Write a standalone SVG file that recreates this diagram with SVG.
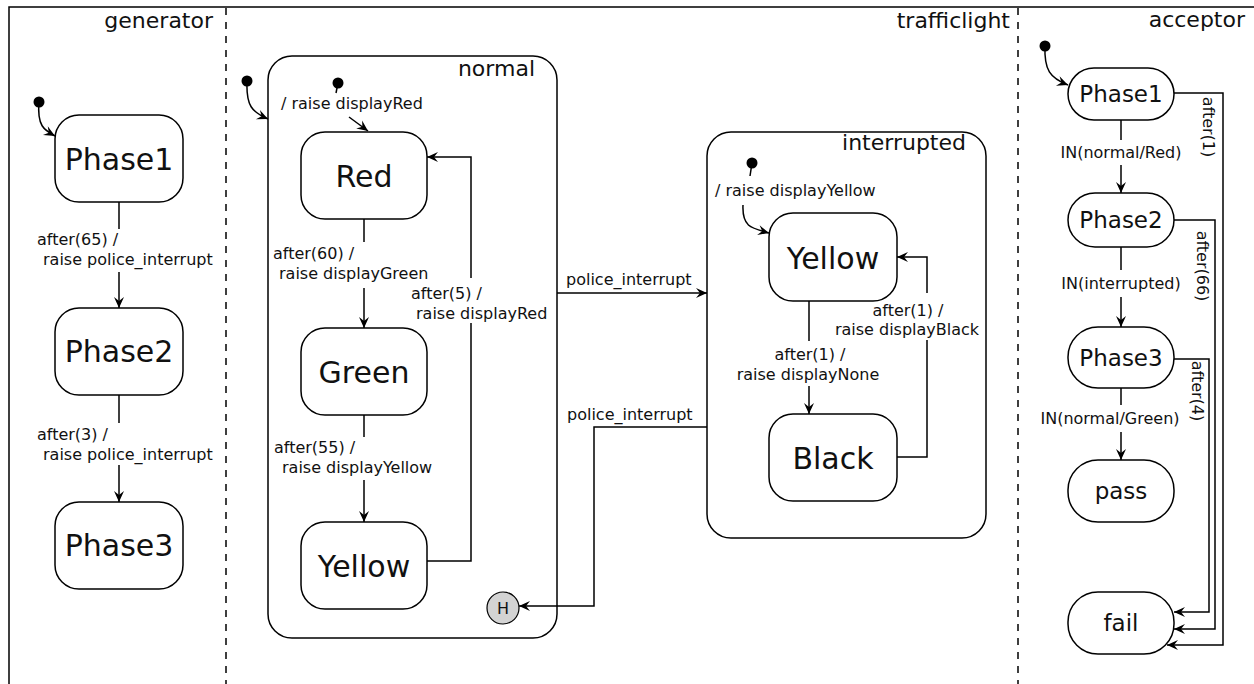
<svg xmlns="http://www.w3.org/2000/svg" width="1254" height="684" viewBox="0 0 1254 684">
<style>
text{font-family:"DejaVu Sans","Liberation Sans",sans-serif;fill:#111}
.t{font-size:22px}
.n{font-size:30px;text-anchor:middle}
.an{font-size:23px;text-anchor:middle}
.l{font-size:16px}
.m{text-anchor:middle}
.box{fill:#fff;stroke:#000;stroke-width:1.5}
.c{fill:none;stroke:#000;stroke-width:1.5}
.a{marker-end:url(#ah)}
.dot{fill:#000}
.sep{stroke:#000;stroke-width:1.5;stroke-dasharray:7 7}
</style>
<defs>
<marker id="ah" viewBox="-12 -7 14 14" refX="0" refY="0" markerWidth="14" markerHeight="14" orient="auto" markerUnits="userSpaceOnUse">
<path d="M-11,-5 L0,0 L-11,5 L-7,0 Z" fill="#000"/>
</marker>
</defs>
<rect width="1254" height="684" fill="#fff"/>
<path d="M9,684 V7 H1254" fill="none" stroke="#000" stroke-width="1.5"/>
<line class="sep" x1="226" y1="8" x2="226" y2="684"/>
<line class="sep" x1="1018" y1="8" x2="1018" y2="684"/>
<text class="t" x="213" y="28" text-anchor="end">generator</text>
<text class="t" x="1010" y="28" text-anchor="end">trafficlight</text>
<text class="t" x="1245" y="27" text-anchor="end">acceptor</text>

<g id="normal">
<rect class="box" x="268" y="56" width="289" height="582" rx="24"/>
<text class="t" x="535" y="76" text-anchor="end">normal</text>
</g>
<g id="interrupted">
<rect class="box" x="707" y="132" width="279" height="406" rx="24"/>
<text class="t" x="966" y="150" text-anchor="end">interrupted</text>
</g>

<g id="gen-init"><circle class="dot" cx="39" cy="102" r="5.5"/></g>
<g id="gen-phase1"><rect class="box" x="55" y="115" width="128" height="87" rx="24"/><text class="n" x="119" y="170">Phase1</text></g>
<g id="gen-phase2"><rect class="box" x="55" y="308" width="128" height="87" rx="24"/><text class="n" x="119" y="362">Phase2</text></g>
<g id="gen-phase3"><rect class="box" x="55" y="502" width="128" height="87" rx="24"/><text class="n" x="119" y="556">Phase3</text></g>

<g id="tl-init"><circle class="dot" cx="247" cy="81" r="5.5"/></g>
<g id="normal-init"><circle class="dot" cx="338" cy="83" r="5.5"/></g>
<g id="red"><rect class="box" x="301" y="132" width="126" height="87" rx="24"/><text class="n" x="364" y="187">Red</text></g>
<g id="green"><rect class="box" x="301" y="328" width="126" height="87" rx="24"/><text class="n" x="364" y="383">Green</text></g>
<g id="yellow"><rect class="box" x="301" y="522" width="126" height="87" rx="24"/><text class="n" x="364" y="577">Yellow</text></g>
<g id="history"><circle cx="503" cy="608" r="16" fill="#d3d3d3" stroke="#000" stroke-width="1.2"/><text class="m" x="503" y="614" font-size="16">H</text></g>

<g id="int-init"><circle class="dot" cx="752" cy="163" r="5.5"/></g>
<g id="int-yellow"><rect class="box" x="769" y="213" width="128" height="88" rx="24"/><text class="n" x="833" y="269">Yellow</text></g>
<g id="int-black"><rect class="box" x="769" y="414" width="128" height="87" rx="24"/><text class="n" x="833" y="469">Black</text></g>

<g id="acc-init"><circle class="dot" cx="1045" cy="46" r="5.5"/></g>
<g id="acc-phase1"><rect class="box" x="1068" y="68" width="106" height="52" rx="26"/><text class="an" x="1121" y="102">Phase1</text></g>
<g id="acc-phase2"><rect class="box" x="1068" y="193" width="106" height="54" rx="27"/><text class="an" x="1121" y="228">Phase2</text></g>
<g id="acc-phase3"><rect class="box" x="1068" y="327" width="106" height="61" rx="30"/><text class="an" x="1121" y="366">Phase3</text></g>
<g id="acc-pass"><rect class="box" x="1068" y="460" width="106" height="62" rx="30"/><text class="an" x="1121" y="499">pass</text></g>
<g id="acc-fail"><rect class="box" x="1068" y="592" width="106" height="62" rx="30"/><text class="an" x="1121" y="631">fail</text></g>

<g id="connectors">
<path class="c a" d="M39,102 C37,126 44,130 55,136"/>
<path class="c" d="M119,202 V229"/>
<path class="c a" d="M119,272 V308"/>
<text class="l" x="37" y="245">after(65) /</text>
<text class="l" x="43" y="265">raise police_interrupt</text>
<path class="c" d="M119,395 V423"/>
<path class="c a" d="M119,465 V502"/>
<text class="l" x="37" y="440">after(3) /</text>
<text class="l" x="43" y="460">raise police_interrupt</text>

<path class="c a" d="M247,81 C246,106 252,112 268,119"/>
<path class="c" d="M338,83 L336,93"/>
<text class="l" x="281" y="109">/ raise displayRed</text>
<path class="c a" d="M349,117 L368,131"/>
<path class="c" d="M364,219 V242"/>
<text class="l" x="273" y="259">after(60) /</text>
<text class="l" x="279" y="279">raise displayGreen</text>
<path class="c a" d="M364,288 V328"/>
<path class="c" d="M364,415 V437"/>
<text class="l" x="274" y="453">after(55) /</text>
<text class="l" x="282" y="473">raise displayYellow</text>
<path class="c a" d="M364,480 V522"/>
<path class="c" d="M427,561 H471 V323"/>
<path class="c a" d="M471,278 V157 H427"/>
<text class="l" x="411" y="299">after(5) /</text>
<text class="l" x="416" y="319">raise displayRed</text>

<path class="c a" d="M557,293 H707"/>
<text class="l" x="566" y="285">police_interrupt</text>
<path class="c a" d="M707,427 H594 V606 H519"/>
<text class="l" x="567" y="420">police_interrupt</text>

<path class="c" d="M752,163 L750,176"/>
<text class="l" x="715" y="196">/ raise displayYellow</text>
<path class="c a" d="M743,205 C742,226 750,228 769,233"/>
<path class="c" d="M809,301 V341"/>
<text class="l m" x="810" y="360">after(1) /</text>
<text class="l m" x="808" y="380">raise displayNone</text>
<path class="c a" d="M809,386 V414"/>
<path class="c" d="M897,457 H927 V340"/>
<path class="c a" d="M927,293 V257 H897"/>
<text class="l m" x="908" y="316">after(1) /</text>
<text class="l m" x="907" y="335">raise displayBlack</text>

<path class="c a" d="M1045,46 C1044,70 1050,78 1068,85"/>
<path class="c" d="M1121,120 V140"/>
<text class="l m" x="1121" y="158">IN(normal/Red)</text>
<path class="c a" d="M1121,165 V193"/>
<path class="c" d="M1121,247 V270"/>
<text class="l m" x="1121" y="289">IN(interrupted)</text>
<path class="c a" d="M1121,297 V327"/>
<path class="c" d="M1121,388 V405"/>
<text class="l m" x="1110" y="424">IN(normal/Green)</text>
<path class="c a" d="M1121,432 V460"/>
<path class="c a" d="M1174,93 H1223 V645 H1167"/>
<path class="c a" d="M1174,220 H1215 V629 H1174"/>
<path class="c a" d="M1174,359 H1209 V612 H1174"/>
<text class="l m" transform="translate(1203,127) rotate(90)">after(1)</text>
<text class="l m" transform="translate(1197,266) rotate(90)">after(66)</text>
<text class="l m" transform="translate(1192,391) rotate(90)">after(4)</text>
</g>
</svg>
